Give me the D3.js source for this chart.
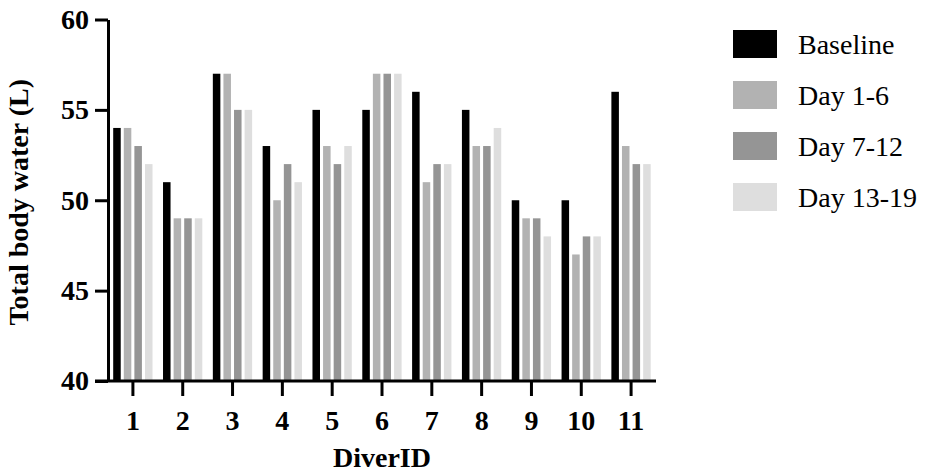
<!DOCTYPE html>
<html>
<head>
<meta charset="utf-8">
<script src="https://cdn.jsdelivr.net/npm/d3@7"></script>
<style>
  body { margin: 0; background: #fff; }
  svg text { font-family: "Liberation Serif", "Times New Roman", Times, "Nimbus Roman", "DejaVu Serif", serif !important; }
</style>
</head>
<body>
<svg id="chart" width="925" height="474"></svg>
<script>
// Data
const diverIDs = ["1", "2", "3", "4", "5", "6", "7", "8", "9", "10", "11"];
const seriesNames = ["Baseline", "Day 1-6", "Day 7-12", "Day 13-19"];
const baseline = [54, 51, 57, 53, 55, 55, 56, 55, 50, 50, 56];
const day1to6 = [54, 49, 57, 50, 53, 57, 51, 53, 49, 47, 53];
const day7to12 = [53, 49, 55, 52, 52, 57, 52, 53, 49, 48, 52];
const day13to19 = [52, 49, 55, 51, 53, 57, 52, 54, 48, 48, 52];
const yTicks = [40, 45, 50, 55, 60];
const colors = ["#000000", "#b2b2b2", "#959595", "#dedede"];

const seriesValues = [baseline, day1to6, day7to12, day13to19];
const data = diverIDs.map((id, i) => ({
    id: id,
    values: seriesNames.map((s, j) => ({ key: s, value: seriesValues[j][i] }))
}));

const svg = d3.select("#chart");

// Scales
const x0 = d3.scaleBand()
    .domain(diverIDs)
    .range([108, 656])
    .padding(0);

const x1 = d3.scaleBand()
    .domain(seriesNames)
    .range([5.2, 44.5])
    .paddingInner(0.29)
    .paddingOuter(0);

const y = d3.scaleLinear()
    .domain([40, 60])
    .range([381, 19.5]);

const color = d3.scaleOrdinal().domain(seriesNames).range(colors);

// Bars
svg.append("g")
    .selectAll("g")
    .data(data)
    .join("g")
    .attr("transform", d => `translate(${x0(d.id)},0)`)
    .selectAll("rect")
    .data(d => d.values)
    .join("rect")
    .attr("x", d => x1(d.key))
    .attr("y", d => y(d.value))
    .attr("width", x1.bandwidth())
    .attr("height", d => y(40) - y(d.value))
    .attr("fill", d => color(d.key));

// X axis
const xAxis = svg.append("g")
    .attr("transform", `translate(0,${y(40)})`)
    .call(d3.axisBottom(x0).tickSize(15).tickSizeOuter(0).tickPadding(14));
xAxis.select(".domain")
    .attr("d", `M95,0H656`)
    .attr("stroke-width", 3);
xAxis.selectAll(".tick line").attr("stroke-width", 3);
xAxis.selectAll("text")
    .attr("font-size", 28)
    .attr("font-weight", "bold")
    .attr("fill", "#000");

// Y axis
const yAxis = svg.append("g")
    .attr("transform", `translate(${x0.range()[0]},0)`)
    .call(d3.axisLeft(y).tickValues(yTicks).tickSize(13).tickSizeOuter(0).tickPadding(6));
yAxis.select(".domain").attr("stroke-width", 3);
yAxis.selectAll(".tick line").attr("stroke-width", 3);
yAxis.selectAll("text")
    .attr("font-size", 28)
    .attr("font-weight", "bold")
    .attr("fill", "#000");

// Axis titles
svg.append("text")
    .attr("x", (x0.range()[0] + x0.range()[1]) / 2)
    .attr("y", 467)
    .attr("text-anchor", "middle")
    .attr("font-size", 28)
    .attr("font-weight", "bold")
    .text("DiverID");

svg.append("text")
    .attr("transform", `translate(28,${(y(40) + y(60)) / 2 + 2})rotate(-90)`)
    .attr("text-anchor", "middle")
    .attr("font-size", 28)
    .attr("font-weight", "bold")
    .text("Total body water (L)");

// Legend
const legend = svg.append("g")
    .selectAll("g")
    .data(seriesNames)
    .join("g")
    .attr("transform", (d, i) => `translate(733,${30 + i * 51})`);

legend.append("rect")
    .attr("width", 44)
    .attr("height", 28)
    .attr("fill", d => color(d));

legend.append("text")
    .attr("x", 65)
    .attr("y", 14)
    .attr("dy", "0.35em")
    .attr("font-size", 28)
    .text(d => d);
</script>
</body>
</html>
